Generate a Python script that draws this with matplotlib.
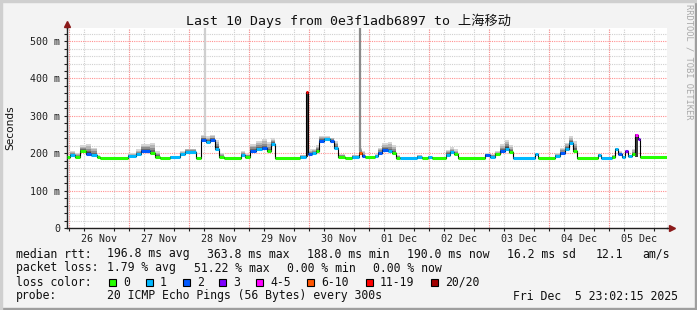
import numpy as np
import matplotlib
matplotlib.use("Agg")
import matplotlib.pyplot as plt
import matplotlib.dates as mdates
from matplotlib.patches import Rectangle
from matplotlib.ticker import MultipleLocator, FuncFormatter
from datetime import datetime, timedelta

W, H = 697, 310
MONO = ['DejaVu Sans Mono', 'Noto Sans CJK SC']

start = datetime(2025, 11, 25, 23, 2, 15)
end = start + timedelta(days=10)

# median rtt as steps: hour offset from start, median (ms), loss class, smoke top (ms)
seg_h = [0, 1.2, 3.2, 5.2, 7.6, 9.6, 12, 13.2,
         24.4, 27.6, 29.6, 33.2, 35.2, 37.2, 41.2, 45.2, 47.2,
         51.6, 53.6, 55.6, 57.2, 59.2, 60.8, 62.8,
         69.6, 71.2, 73.2, 75.6, 78, 80, 81.6, 83.2,
         93.2, 95.6, 96.4, 98, 99.6, 100.8, 102.8, 105.2, 106.8, 108.4, 111.2,
         114, 116.8, 118, 119.2, 123.2, 124.4, 126, 128.4, 130, 131.6,
         133.2, 140, 142, 144.4, 146, 151.6, 153.2, 154.8, 156.4,
         167.2, 169.2, 171.2, 173.2, 175.2, 176.8, 178.4, 187.2, 188.4,
         195.2, 197.2, 199.2, 200.8, 202.4, 204, 212.4, 213.6, 218,
         219.2, 220.4, 222, 223.2, 224.4, 226, 227.2, 228.4, 229.2]
seg_med = [190, 195, 191, 205, 198, 195, 190, 188,
           192, 198, 206, 200, 190, 188, 190, 197, 204,
           188, 236, 230, 236, 212, 190, 188,
           196, 190, 206, 210, 213, 205, 225, 188,
           191, 363.8, 197, 200, 205, 234, 237, 233, 215, 190, 188,
           191, 200, 193, 190, 192, 200, 208, 205, 200, 188,
           188, 191, 188, 190, 188, 196, 202, 197, 188,
           196, 190, 197, 205, 212, 202, 188, 197, 188,
           193, 200, 210, 228, 205, 188, 196, 188, 191,
           210, 198, 190, 205, 192, 197, 250, 238, 190]
seg_loss = [0, 1, 0, 0, 2, 1, 0, 0,
            1, 1, 2, 0, 0, 0, 1, 1, 1,
            0, 2, 1, 2, 1, 0, 0,
            1, 0, 2, 1, 2, 0, 1, 0,
            1, 6, 2, 1, 0, 2, 1, 2, 1, 0, 0,
            1, 5, 2, 0, 1, 2, 2, 1, 0, 0,
            1, 1, 0, 1, 0, 1, 1, 0, 0,
            2, 1, 0, 2, 1, 0, 1, 1, 0,
            1, 2, 1, 1, 0, 0, 1, 1, 0,
            1, 2, 1, 3, 1, 0, 4, 3, 0]
seg_hi = [192, 205, 200, 222, 225, 215, 195, 190,
          200, 210, 225, 228, 205, 190, 193, 205, 212,
          190, 248, 245, 248, 235, 200, 190,
          205, 198, 225, 232, 238, 230, 240, 190,
          195, 364, 210, 212, 222, 245, 246, 242, 232, 198, 190,
          195, 215, 205, 192, 198, 215, 228, 230, 222, 195,
          190, 195, 190, 193, 190, 208, 216, 210, 190,
          200, 198, 205, 225, 235, 222, 190, 200, 190,
          200, 215, 228, 245, 232, 190, 198, 190, 195,
          215, 205, 193, 208, 196, 212, 252, 240, 192]

# dark smoke bars below the median (hour from, hour to, low ms, high ms)
bar_h0 = [95.6, 227.2]
bar_h1 = [96.4, 228.4]
bar_lo = [190, 190]
bar_hi = [362, 248]
# single outlier pings above the scale
out_h = [55.2, 117.2]
out_lo = [245, 205]
out_col = ['#cfcfcf', '#8a8a8a']

loss_labels = ['0', '1', '2', '3', '4-5', '6-10', '11-19', '20/20']
loss_colors = ['#26ff00', '#00b8ff', '#0059ff', '#7e00ff', '#ff00ff',
               '#ff5500', '#ff0000', '#a10000']


def tt(h):
    return mdates.date2num(start + timedelta(hours=h))


def px(x, y):
    return x / W, 1 - y / H


fig = plt.figure(figsize=(W / 100, H / 100), dpi=100, facecolor='#f3f3f3')
# frame shading
fig.patches.append(Rectangle((0, 0), 1, 2 / H, transform=fig.transFigure, color='#9e9e9e', zorder=-1))
fig.patches.append(Rectangle((1 - 2 / W, 0), 2 / W, 1, transform=fig.transFigure, color='#9e9e9e', zorder=-1))
fig.patches.append(Rectangle((0, 1 - 2 / H), 1, 2 / H, transform=fig.transFigure, color='#cfcfcf', zorder=-1))
fig.patches.append(Rectangle((0, 0), 2 / W, 1, transform=fig.transFigure, color='#cfcfcf', zorder=-1))

ax = fig.add_axes([67 / W, (H - 228) / H, 600 / W, 200 / H])
ax.set_facecolor('white')
ax.set_xlim(tt(0), tt(240))
ax.set_ylim(0, 535)

xs = np.array([tt(h) for h in seg_h] + [tt(240)])
med = np.array(seg_med + [seg_med[-1]], dtype=float)
hi = np.array(seg_hi + [seg_hi[-1]], dtype=float)

# smoke
shades = [(1.0, '#d6d6d6'), (0.75, '#b4b4b4'), (0.5, '#8e8e8e'), (0.3, '#686868'), (0.15, '#444444')]
for f, c in shades:
    ax.fill_between(xs, med - 2, med + f * (hi - med), step='post', color=c, lw=0, zorder=2)
for a, b, lo, top in zip(bar_h0, bar_h1, bar_lo, bar_hi):
    ax.fill_between([tt(a), tt(b)], lo, top, color='#3c3c3c', lw=0, zorder=2)
for h, lo, c in zip(out_h, out_lo, out_col):
    ax.vlines(tt(h), lo, 535, color=c, lw=1.6, zorder=2)

# median line
ax.step(xs, med, where='post', color='black', lw=0.8, zorder=3)
for i in range(len(seg_h)):
    ax.hlines(seg_med[i], xs[i], xs[i + 1], color=loss_colors[seg_loss[i]], lw=2.2, zorder=4)

# grid
ax.yaxis.set_major_locator(MultipleLocator(100))
ax.yaxis.set_minor_locator(MultipleLocator(20))
ax.yaxis.set_major_formatter(FuncFormatter(lambda v, p: '0' if v == 0 else '%d m' % v))
ax.xaxis.set_major_locator(mdates.HourLocator(byhour=[12]))
ax.xaxis.set_minor_locator(mdates.HourLocator(byhour=[0, 6, 12, 18]))
ax.xaxis.set_major_formatter(mdates.DateFormatter('%d %b'))
ax.grid(which='minor', color='#d0d0d0', linestyle=(0, (1, 1)), lw=0.8, zorder=1)
ax.grid(which='major', axis='y', color='#ff9090', linestyle=(0, (1, 1)), lw=0.8, zorder=1)
d = start.replace(hour=0, minute=0, second=0) + timedelta(days=1)
while d < end:
    ax.axvline(mdates.date2num(d), color='#ff9090', linestyle=(0, (1, 1)), lw=0.8, zorder=1)
    d += timedelta(days=1)
ax.set_axisbelow(True)

for s in ['top', 'right']:
    ax.spines[s].set_visible(False)
for s in ['left', 'bottom']:
    ax.spines[s].set_color('#202020')
    ax.spines[s].set_linewidth(1)
ax.tick_params(which='both', length=2, width=0.8, colors='#202020', labelsize=7.2, pad=3)
ax.tick_params(axis='x', which='major', length=0, pad=4)
for lab in ax.get_xticklabels() + ax.get_yticklabels():
    lab.set_fontfamily(MONO)
# axis extensions with arrows
ax.plot([0, 0], [1.0, 1.015], color='#202020', lw=1, transform=ax.transAxes, clip_on=False, zorder=5)
ax.plot([1.0, 1.006], [0, 0], color='#202020', lw=1, transform=ax.transAxes, clip_on=False, zorder=5)
ax.plot([0], [1.02], marker='^', ms=4, color='#8b1a1a', transform=ax.transAxes, clip_on=False, zorder=5)
ax.plot([1.008], [0], marker='>', ms=4, color='#8b1a1a', transform=ax.transAxes, clip_on=False, zorder=5)

# texts
fig.text(*px(348, 21), 'Last 10 Days from 0e3f1adb6897 to 上海移动', family=MONO,
         fontsize=9.5, ha='center', va='center', color='#101010')
fig.text(*px(10, 128), 'Seconds', fontsize=7.6, rotation=90, ha='center', va='center', color='#101010')
fig.text(*px(689, 4), 'RRDTOOL / TOBI OETIKER', family=MONO, fontsize=6.3, rotation=270,
         ha='center', va='top', color='#a8a8a8')

lines = [
    (254, [(16, 'median rtt:'), (107, '196.8 ms avg'), (207, '363.8 ms max'), (307, '188.0 ms min'),
           (407, '190.0 ms now'), (507, '16.2 ms sd'), (596, '12.1'), (642, 'am/s')]),
    (268, [(16, 'packet loss:'), (107, '1.79 % avg'), (194, '51.22 % max'), (287, '0.00 % min'),
           (373, '0.00 % now')]),
    (296, [(16, 'probe:'), (107, '20 ICMP Echo Pings (56 Bytes) every 300s'), (513, 'Fri Dec  5 23:02:15 2025')]),
]
for y, items in lines:
    for x, s in items:
        fig.text(*px(x, y), s, family=MONO, fontsize=8.3, ha='left', va='center', color='#101010')

fig.text(*px(16, 282), 'loss color:', family=MONO, fontsize=8.3, ha='left', va='center', color='#101010')
box_x = [109, 146, 183, 219, 256, 307, 366, 431]
for bx, lab, col in zip(box_x, loss_labels, loss_colors):
    fig.patches.append(Rectangle(px(bx, 285.5), 7 / W, 7 / H, transform=fig.transFigure,
                                 facecolor=col, edgecolor='black', lw=0.8))
    fig.text(*px(bx + 14, 282), lab, family=MONO, fontsize=8.3, ha='left', va='center', color='#101010')

fig.savefig('out.png', dpi=100, facecolor=fig.get_facecolor())
